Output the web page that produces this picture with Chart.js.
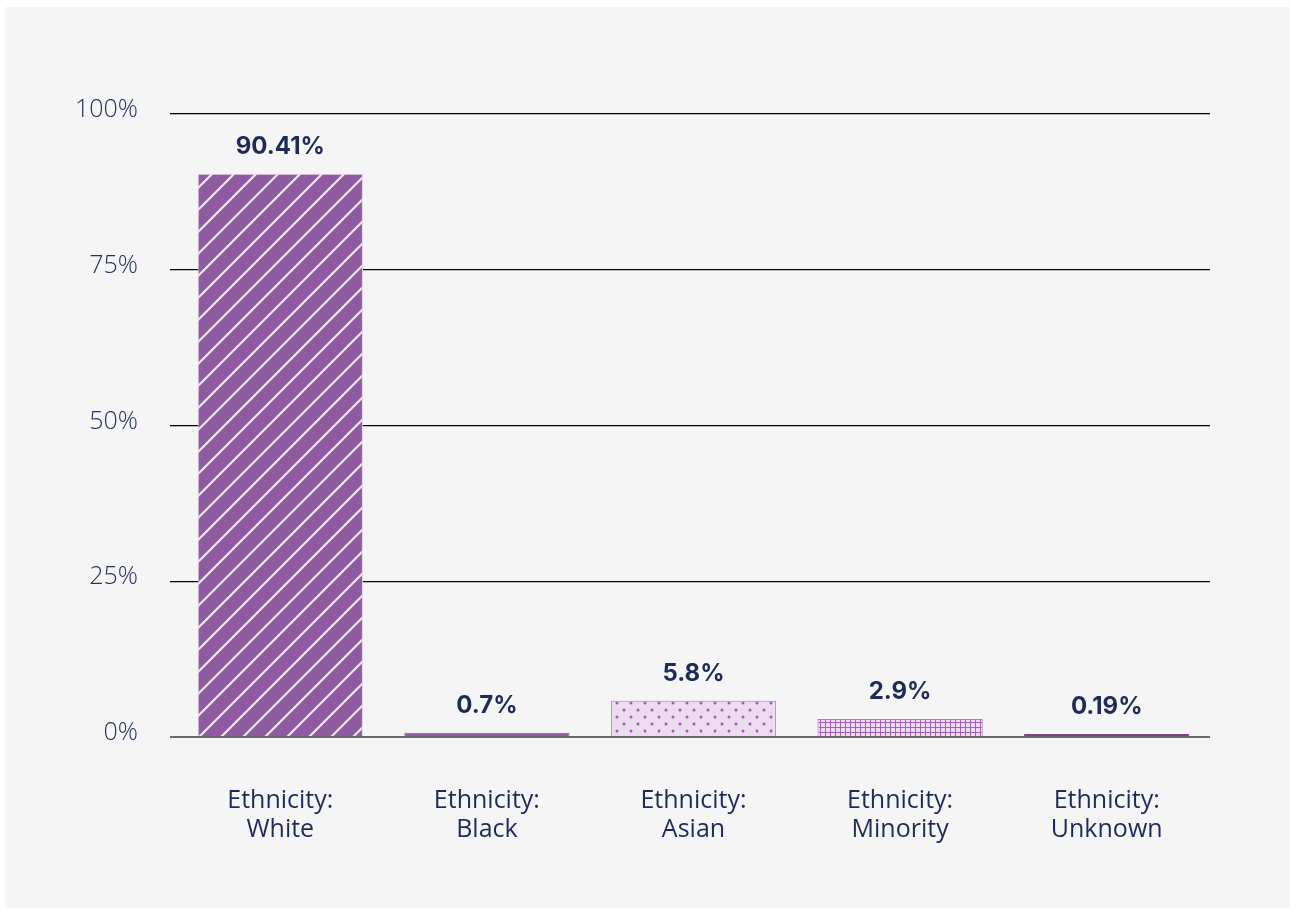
<!DOCTYPE html>
<html>
<head>
<meta charset="utf-8">
<script src="https://cdn.jsdelivr.net/npm/chart.js@4.4.1/dist/chart.umd.min.js"></script>
<style>
  html, body { margin: 0; padding: 0; background: #ffffff; }
  #wrap { position: absolute; left: 5px; top: 7px; width: 1285px; height: 901px; background: #f5f5f5; }
</style>
</head>
<body>
<div id="wrap"><canvas id="chart" width="1285" height="901"></canvas></div>
<script>
// data
const categories = [["Ethnicity:", "White"], ["Ethnicity:", "Black"], ["Ethnicity:", "Asian"], ["Ethnicity:", "Minority"], ["Ethnicity:", "Unknown"]];
const shares = [90.41, 0.7, 5.8, 2.9, 0.19];
const valueLabels = ["90.41%", "0.7%", "5.8%", "2.9%", "0.19%"];
const yTicks = [0, 25, 50, 75, 100];

const NAVY = '#1f2b57';
const PURPLE = '#8f5ba0';

// little canvas tiles used as fills
function tile(w, h, draw) {
  const c = document.createElement('canvas');
  c.width = w; c.height = h;
  const g = c.getContext('2d');
  draw(g);
  return g.createPattern(c, 'repeat');
}

const stripes = tile(22, 22, g => {
  g.fillStyle = PURPLE;
  g.fillRect(0, 0, 22, 22);
  g.strokeStyle = '#f1e3f2';
  g.lineWidth = 2.2;
  g.beginPath();
  g.moveTo(-2, 24); g.lineTo(24, -2);
  g.moveTo(-3, 3); g.lineTo(3, -3);
  g.moveTo(19, 25); g.lineTo(25, 19);
  g.stroke();
});

const dots = tile(14, 14, g => {
  g.fillStyle = '#ecdcef';
  g.fillRect(0, 0, 14, 14);
  g.fillStyle = '#9a5eab';
  [[3, 3], [10, 10]].forEach(p => {
    g.beginPath(); g.arc(p[0], p[1], 1.5, 0, Math.PI * 2); g.fill();
  });
});

const grid = tile(5, 5, g => {
  g.fillStyle = '#ecdcef';
  g.fillRect(0, 0, 5, 5);
  g.fillStyle = '#a55fb8';
  g.fillRect(0, 0, 5, 1);
  g.fillRect(0, 0, 1, 5);
});

const fills = [stripes, PURPLE, dots, grid, '#7a4688'];
const borders = ['#e6d3ea', PURPLE, '#b07cbe', '#b07cbe', '#7a4688'];

const valueLabelPlugin = {
  id: 'valueLabels',
  afterDatasetsDraw(chart) {
    const ctx = chart.ctx;
    const meta = chart.getDatasetMeta(0);
    ctx.save();
    ctx.font = 'bold 24px "Inter", "DejaVu Sans", sans-serif';
    ctx.fillStyle = NAVY;
    ctx.textAlign = 'center';
    ctx.textBaseline = 'middle';
    meta.data.forEach((bar, i) => {
      ctx.fillText(valueLabels[i], bar.x, bar.y - 27);
    });
    ctx.restore();
  }
};

new Chart(document.getElementById('chart'), {
  type: 'bar',
  data: {
    labels: categories,
    datasets: [{
      data: shares,
      backgroundColor: fills,
      borderColor: borders,
      borderWidth: 1,
      minBarLength: 3,
      barPercentage: 0.8,
      categoryPercentage: 1.0
    }]
  },
  options: {
    responsive: false,
    animation: false,
    layout: { padding: { left: 0, right: 80, top: 107, bottom: 0 } },
    plugins: { legend: { display: false }, tooltip: { enabled: false } },
    scales: {
      x: {
        grid: { display: false },
        border: { display: false },
        ticks: {
          color: NAVY,
          padding: 41,
          maxRotation: 0,
          font: { family: '"Open Sans", sans-serif', size: 25, lineHeight: 1.16 }
        },
        afterFit(scale) { scale.height = 171; }
      },
      y: {
        min: 0,
        max: 100,
        afterBuildTicks(scale) { scale.ticks = yTicks.map(v => ({ value: v })); },
        border: { display: false },
        grid: {
          color: c => c.index === 0 ? '#6b6b6b' : '#000000',
          lineWidth: c => c.index === 0 ? 2 : 1.3,
          tickLength: 7
        },
        ticks: {
          color: '#26325e',
          padding: 32,
          labelOffset: -4,
          font: { family: '"Open Sans", sans-serif', size: 25, weight: 300 },
          callback: v => v + '%'
        },
        afterFit(scale) { scale.width = 172; }
      }
    }
  },
  plugins: [valueLabelPlugin]
});
</script>
</body>
</html>
